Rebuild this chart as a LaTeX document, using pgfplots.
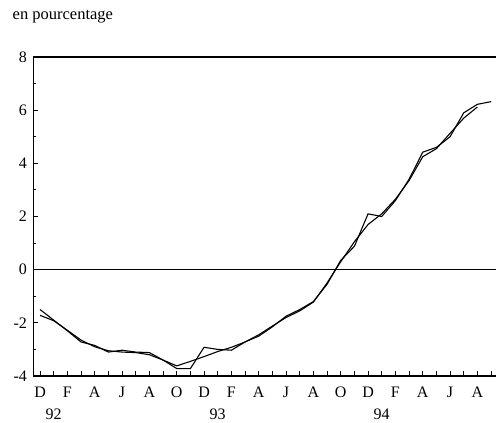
\documentclass[border=0pt]{standalone}
\usepackage{fontspec}
\setmainfont{Liberation Serif}
\usepackage{pgfplots}
\pgfplotsset{compat=1.18}

% monthly series, index 0 = Dec 91
\pgfplotstableread{
i  v
0  -1.50
1  -1.90
2  -2.30
3  -2.72
4  -2.85
5  -3.10
6  -3.03
7  -3.10
8  -3.12
9  -3.40
10 -3.72
11 -3.72
12 -2.92
13 -3.00
14 -3.03
15 -2.72
16 -2.50
17 -2.15
18 -1.75
19 -1.50
20 -1.20
21 -0.55
22  0.35
23  0.88
24  2.10
25  2.00
26  2.60
27  3.40
28  4.42
29  4.60
30  5.00
31  5.90
32  6.22
33  6.32
}\brut

\pgfplotstableread{
i  v
0  -1.72
1  -1.92
2  -2.28
3  -2.65
4  -2.90
5  -3.05
6  -3.10
7  -3.12
8  -3.20
9  -3.40
10 -3.62
11 -3.45
12 -3.27
13 -3.08
14 -2.92
15 -2.72
16 -2.45
17 -2.12
18 -1.80
19 -1.55
20 -1.22
21 -0.50
22  0.30
23  1.05
24  1.70
25  2.10
26  2.65
27  3.35
28  4.25
29  4.55
30  5.13
31  5.70
32  6.12
}\lisse

\begin{document}
\begin{tikzpicture}
\path[use as bounding box] (-33.5pt,-47pt) rectangle (462.5pt,376pt);
\begin{axis}[
    scale only axis,
    width=462.5pt, height=319pt,
    at={(0,0)}, anchor=south west,
    xmin=-0.48, xmax=33.36,
    ymin=-4, ymax=8,
    axis lines=left,
    axis line style={-, line width=1.2pt},
    clip=false,
    xtick={0,...,33},
    xticklabels={D,,F,,A,,J,,A,,O,,D,,F,,A,,J,,A,,O,,D,,F,,A,,J,,A,,O},
    ytick={-4,-2,0,2,4,6,8},
    yticklabels={-4,-2,0,2,4,6,8},
    minor ytick={-3,-1,1,3,5,7},
    tick align=inside,
    major tick length=5pt,
    minor tick length=3pt,
    tick style={black, line width=1pt},
    tick label style={font=\fontsize{16}{18}\selectfont},
    xticklabel style={yshift=-7pt},
    yticklabel style={xshift=-3pt},
]
\draw[line width=1.2pt] (rel axis cs:0,1) -- (rel axis cs:1,1);
\draw[line width=1pt] (axis cs:-0.48,0) -- (axis cs:33.36,0);
\addplot[black, line width=1.1pt, mark=none] table[x=i, y=v] {\brut};
\addplot[black, line width=1.1pt, mark=none] table[x=i, y=v] {\lisse};
\node[font=\fontsize{16}{18}\selectfont, inner sep=0pt] at (axis cs:1,-4) [yshift=-38pt] {92};
\node[font=\fontsize{16}{18}\selectfont, inner sep=0pt] at (axis cs:13,-4) [yshift=-38pt] {93};
\node[font=\fontsize{16}{18}\selectfont, inner sep=0pt] at (axis cs:25,-4) [yshift=-38pt] {94};
\end{axis}
\node[anchor=base west, font=\fontsize{16.5}{19}\selectfont, inner sep=0pt] at (-21pt,356pt) {en pourcentage};
\end{tikzpicture}
\end{document}
